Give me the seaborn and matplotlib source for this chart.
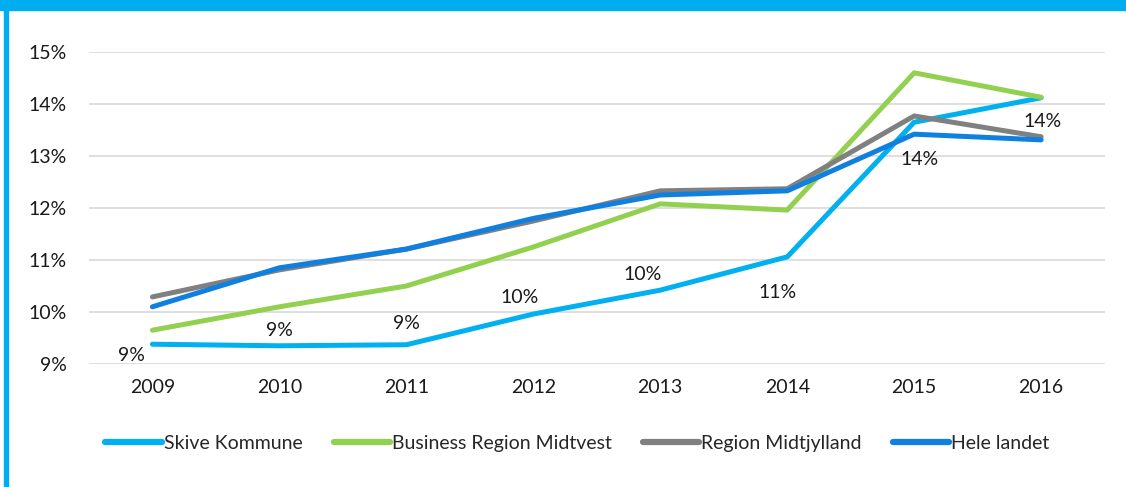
import matplotlib.pyplot as plt
import seaborn as sns
import pandas as pd
from matplotlib.patches import Rectangle
from matplotlib.ticker import FuncFormatter

years = ["2009", "2010", "2011", "2012", "2013", "2014", "2015", "2016"]
skive = [9.38, 9.35, 9.37, 9.96, 10.42, 11.06, 13.65, 14.12]
business_midtvest = [9.65, 10.10, 10.50, 11.25, 12.08, 11.96, 14.60, 14.13]
region_midtjylland = [10.29, 10.81, 11.21, 11.75, 12.33, 12.37, 13.77, 13.37]
hele_landet = [10.10, 10.85, 11.21, 11.80, 12.25, 12.33, 13.42, 13.31]
series_names = ["Skive Kommune", "Business Region Midtvest", "Region Midtjylland", "Hele landet"]
colors = ["#00B0F0", "#92D050", "#808080", "#0F7FE0"]

# label offsets for the Skive values (points)
label_offsets = [(-15, -8), (0, 11), (0, 15), (-10, 12), (-13, 11), (-7, -26), (4, -27), (1, -17)]

df = pd.DataFrame({
    "year": years * 4,
    "value": skive + business_midtvest + region_midtjylland + hele_landet,
    "serie": [n for n in series_names for _ in years],
})

sns.set_theme(style="white")
plt.rcParams["font.family"] = ["Lato", "DejaVu Sans"]
fs = 14

fig = plt.figure(figsize=(11.26, 4.87), dpi=100)
ax = fig.add_axes([0.079, 0.2526, 0.902, 0.6406])

sns.lineplot(data=df, x="year", y="value", hue="serie", hue_order=series_names,
             palette=colors, linewidth=3.6, sort=False, ax=ax,
             solid_capstyle="round")

for i, (y, v) in enumerate(zip(years, skive)):
    dx, dy = label_offsets[i]
    ax.annotate(f"{round(v):.0f}%", (i, v), xytext=(dx, dy), textcoords="offset points",
                ha="center", va="center", fontsize=fs, color="#1a1a1a")

ax.set_xlim(-0.5, 7.5)
ax.set_ylim(9, 15)
ax.set_yticks(range(9, 16))
ax.yaxis.set_major_formatter(FuncFormatter(lambda v, p: f"{v:.0f}%"))
ax.grid(axis="y", color="#d9d9d9", linewidth=1.2)
ax.grid(axis="x", visible=False)
for s in ax.spines.values():
    s.set_visible(False)
ax.set_xlabel("")
ax.set_ylabel("")
ax.tick_params(axis="both", labelsize=fs, colors="#1a1a1a", length=0)
ax.tick_params(axis="x", pad=11)
ax.tick_params(axis="y", pad=16)

leg = ax.legend(loc="upper center", bbox_to_anchor=(0.481, -0.17), ncol=4, frameon=False,
                fontsize=fs, handlelength=2.9, handletextpad=0.1, columnspacing=1.6)
for line in leg.get_lines():
    line.set_linewidth(4.5)
    line.set_solid_capstyle("round")

# blue frame like the original slide
fig.patches.append(Rectangle((0, 0.979), 1, 0.021, transform=fig.transFigure,
                             color="#00ADEF", zorder=5))
fig.patches.append(Rectangle((0.0035, 0), 0.0036, 1, transform=fig.transFigure,
                             color="#00ADEF", zorder=5))

fig.savefig("out.png", dpi=100)
